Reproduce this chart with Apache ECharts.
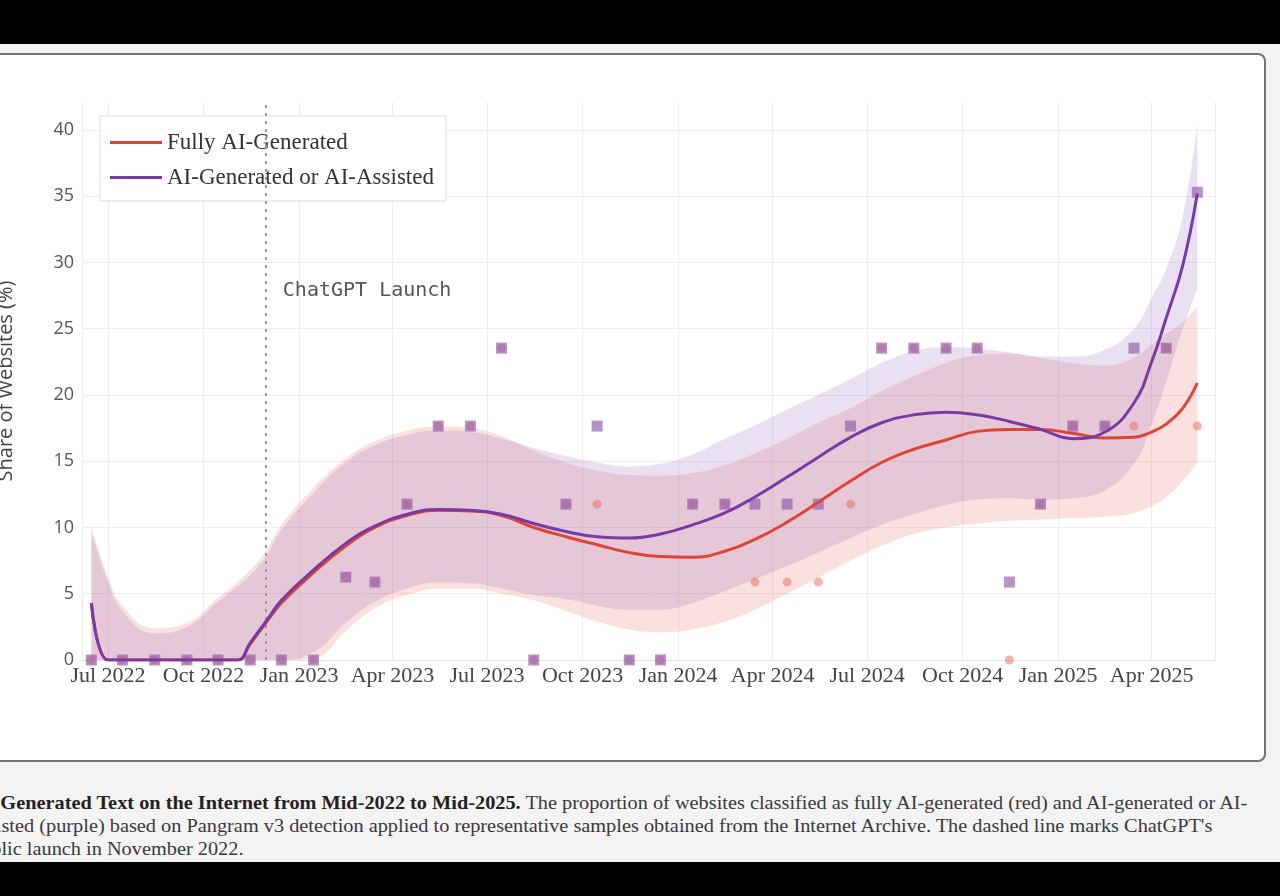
<!DOCTYPE html>
<html>
<head>
<meta charset="utf-8">
<script src="https://cdn.jsdelivr.net/npm/echarts@6/dist/echarts.min.js"></script>
<style>
html, body { margin:0; padding:0; width:1280px; height:896px; overflow:hidden; background:#f3f3f3; }
#topbar { position:absolute; left:0; top:0; width:1280px; height:44px; background:#000; }
#bottombar { position:absolute; left:0; top:862px; width:1280px; height:34px; background:#000; }
#card { position:absolute; left:-12px; top:53px; width:1274px; height:705px; background:#fff; border:2px solid #747474; border-radius:8px; }
#chart { position:absolute; left:0; top:0; width:1280px; height:896px; }
#caption { position:absolute; left:-27px; top:791px; font-family:'Liberation Serif', serif; font-size:19px; line-height:23px; color:#3a3a3a; white-space:nowrap; transform-origin:0 0; }
#caption b { color:#222; }
</style>
</head>
<body>
<div id="topbar"></div>
<div id="card"></div>
<div id="caption">
  <div><span id="l1"><b><span id="pre">AI-</span>Generated Text on the Internet from Mid-2022 to Mid-2025.</b> The proportion of websites classified as fully AI-generated (red) and AI-generated or AI-</span></div>
  <div><span>assisted (purple) based on Pangram v3 detection applied to representative samples obtained from the Internet Archive. The dashed line marks ChatGPT's</span></div>
  <div><span>public launch in November 2022.</span></div>
</div>
<div id="bottombar"></div>
<div id="chart"></div>
<script>
// monthly samples (mid-month)
var monthDates = [
  '2022-06-15','2022-07-15','2022-08-15','2022-09-15','2022-10-15','2022-11-15','2022-12-15',
  '2023-01-15','2023-02-15','2023-03-15','2023-04-15','2023-05-15','2023-06-15','2023-07-15',
  '2023-08-15','2023-09-15','2023-10-15','2023-11-15','2023-12-15',
  '2024-01-15','2024-02-15','2024-03-15','2024-04-15','2024-05-15','2024-06-15','2024-07-15',
  '2024-08-15','2024-09-15','2024-10-15','2024-11-15','2024-12-15',
  '2025-01-15','2025-02-15','2025-03-15','2025-04-15','2025-05-15'
];
var assistedPts = [0,0,0,0,0,0,0, 0,6.25,5.88,11.76,17.65,17.65,23.53, 0,11.76,17.65,0,0,
  11.76,11.76,11.76,11.76,11.76,17.65,23.53, 23.53,23.53,23.53,5.88,11.76,
  17.65,17.65,23.53,23.53,35.29];
var fullyPts = [0,0,0,0,0,0,0, 0,6.25,5.88,11.76,17.65,17.65,23.53, 0,11.76,11.76,0,0,
  11.76,11.76,5.88,5.88,5.88,11.76,23.53, 23.53,23.53,23.53,0,11.76,
  17.65,17.65,17.65,23.53,17.65];

// smoothed fit and confidence band
var fitDates = [
  '2022-06-15','2022-07-01','2022-07-15','2022-08-15','2022-09-15','2022-10-15','2022-11-03','2022-11-15','2022-12-01','2022-12-15',
  '2023-01-15','2023-02-15','2023-03-15','2023-04-15','2023-05-15','2023-06-15','2023-07-15','2023-08-15','2023-09-15','2023-10-15','2023-11-15','2023-12-15',
  '2024-01-15','2024-02-15','2024-03-15','2024-04-15','2024-05-15','2024-06-15','2024-07-15','2024-08-15','2024-09-15','2024-10-15','2024-11-15','2024-12-15',
  '2025-01-15','2025-02-15','2025-03-15','2025-04-01','2025-04-15','2025-05-01','2025-05-15'
];
var assistedFit = [4.3,0,0,0,0,0,0,1.3,3.0,4.5,
  6.8,8.8,10.1,11.0,11.35,11.3,11.0,10.3,9.7,9.3,9.2,9.5,
  10.2,11.1,12.3,13.8,15.3,16.8,17.9,18.5,18.7,18.5,18.0,17.4,
  16.7,17.2,19.4,22.5,25.8,29.8,35.2];
var assistedHi = [9.7,5.9,3.7,2.0,2.5,4.4,5.6,6.4,7.9,9.8,
  12.6,14.9,16.2,17.0,17.3,17.2,16.7,16.0,15.4,14.9,14.6,14.8,
  15.5,16.7,17.7,18.9,20.0,21.2,22.4,23.3,23.6,23.5,23.2,22.9,
  22.9,23.4,25.0,27.3,29.5,33.5,40.5];
var assistedLo = [0,0,0,0,0,0,0,0,0,0,
  0.6,2.8,4.4,5.4,5.85,5.8,5.4,4.9,4.6,4.1,3.8,3.8,
  4.3,5.2,6.1,7.1,8.1,9.2,10.2,11.0,11.7,12.1,12.2,12.1,
  12.2,12.8,14.8,17.8,21.0,25.0,28.0];
var fullyFit = [4.3,0,0,0,0,0,0,1.2,2.9,4.3,
  6.6,8.6,10.0,10.9,11.3,11.25,10.9,10.0,9.3,8.7,8.1,7.8,
  7.75,8.2,9.1,10.4,11.9,13.5,14.9,15.9,16.6,17.25,17.4,17.4,
  17.1,16.75,16.8,17.2,17.8,19.0,20.9];
var fullyHi = [10.0,6.3,4.1,2.4,2.8,4.7,5.9,6.8,8.3,10.2,
  13.0,15.2,16.5,17.3,17.6,17.5,16.9,15.8,14.9,14.3,13.95,13.9,
  14.1,14.7,15.6,16.7,17.9,19.0,20.3,21.4,22.4,23.0,23.1,22.8,
  22.4,22.2,22.8,23.8,24.6,25.5,26.7];
var fullyLo = [0,0,0,0,0,0,0,0,0,0,
  0.1,2.2,3.9,4.9,5.4,5.4,5.0,4.5,3.7,2.9,2.3,2.1,
  2.3,2.9,3.8,5.0,6.2,7.5,8.6,9.5,10.0,10.3,10.5,10.6,
  10.7,10.8,11.1,11.6,12.3,13.5,14.9];

var monthNames = ['Jan','Feb','Mar','Apr','May','Jun','Jul','Aug','Sep','Oct','Nov','Dec'];
var launchDay = new Date(2022, 10, 30).getTime();

function pairs(dates, vals) {
    return dates.map(function (d, i) { return [d, vals[i]]; });
}
function width(hi, lo) {
    return hi.map(function (v, i) { return +(v - lo[i]).toFixed(2); });
}

// scale the caption so its first line ends where the original does
var pre = document.getElementById('pre').getBoundingClientRect().width;
var w1 = document.getElementById('l1').getBoundingClientRect().width;
var k = 1247 / (w1 - pre);
var cap = document.getElementById('caption');
cap.style.left = (-pre * k) + 'px';
cap.style.transform = 'scaleX(' + k + ')';

var chart = echarts.init(document.getElementById('chart'));

function bandBase(stack, lo) {
    return {
        type: 'line', stack: stack, data: pairs(fitDates, lo), symbol: 'none',
        smooth: 0.45, lineStyle: { opacity: 0 }, silent: true, z: 1
    };
}
function band(stack, hi, lo, color) {
    return {
        type: 'line', stack: stack, data: pairs(fitDates, width(hi, lo)), symbol: 'none',
        smooth: 0.45, lineStyle: { opacity: 0 }, areaStyle: { color: color, opacity: 1 },
        silent: true, z: 1
    };
}

var option = {
    animation: false,
    grid: { left: 82, right: 65, top: 102, bottom: 236, containLabel: false, outerBoundsMode: 'none' },
    legend: {
        data: ['Fully AI-Generated', 'AI-Generated or AI-Assisted'],
        orient: 'vertical', left: 100, top: 116,
        icon: 'rect', itemWidth: 52, itemHeight: 3, itemGap: 12,
        padding: [15, 12, 12, 10],
        backgroundColor: '#fff', borderColor: '#dcdcdc', borderWidth: 1, borderRadius: 0,
        selectedMode: false,
        textStyle: { fontFamily: 'Liberation Serif', fontSize: 23, color: '#333' }
    },
    xAxis: {
        type: 'time',
        min: new Date(2022, 5, 6).getTime(),
        max: new Date(2025, 5, 1).getTime(),
        splitNumber: 12,
        axisLine: { lineStyle: { color: '#e2e2e2', width: 1 } },
        axisTick: { show: false },
        axisLabel: {
            fontFamily: 'Liberation Serif', fontSize: 22, color: '#444', margin: 5,
            formatter: function (v) {
                var d = new Date(v);
                return monthNames[d.getMonth()] + ' ' + d.getFullYear();
            }
        },
        splitLine: { show: true, lineStyle: { color: '#eeeeee', width: 1 } }
    },
    yAxis: {
        type: 'value', min: 0, max: 42.1, interval: 5,
        name: 'Share of Websites (%)', nameLocation: 'middle', nameGap: 66,
        nameTextStyle: { fontFamily: 'Open Sans', fontSize: 20, color: '#444' },
        axisLine: { show: false },
        axisTick: { show: false },
        axisLabel: { fontFamily: 'Open Sans', fontSize: 18, color: '#555', margin: 8, showMaxLabel: false },
        splitLine: { show: true, showMaxLine: false, lineStyle: { color: '#eeeeee', width: 1 } }
    },
    series: [
        bandBase('fullyBand', fullyLo),
        band('fullyBand', fullyHi, fullyLo, 'rgba(234,112,108,0.22)'),
        bandBase('assistedBand', assistedLo),
        band('assistedBand', assistedHi, assistedLo, 'rgba(140,92,186,0.19)'),
        {
            type: 'scatter', data: pairs(monthDates, fullyPts), symbol: 'circle', symbolSize: 9,
            itemStyle: { color: '#e86a5c', opacity: 0.5 }, silent: true, z: 3
        },
        {
            type: 'scatter', data: pairs(monthDates, assistedPts), symbol: 'rect', symbolSize: 11,
            itemStyle: { color: '#9460ab', opacity: 0.68 }, silent: true, z: 4
        },
        {
            name: 'Fully AI-Generated', type: 'line', data: pairs(fitDates, fullyFit),
            symbol: 'none', smooth: 0.45, color: '#dd4636',
            lineStyle: { color: '#dd4636', width: 3 }, z: 5
        },
        {
            name: 'AI-Generated or AI-Assisted', type: 'line', data: pairs(fitDates, assistedFit),
            symbol: 'none', smooth: 0.45, color: '#7a3aa6',
            lineStyle: { color: '#7a3aa6', width: 3 }, z: 6,
            markLine: {
                silent: true, symbol: 'none', label: { show: false },
                lineStyle: { color: '#9a9a9a', type: [3, 5], width: 2 },
                data: [{ xAxis: launchDay }]
            }
        }
    ]
};
chart.setOption(option);

var p = chart.convertToPixel({ xAxisIndex: 0, yAxisIndex: 0 }, [launchDay, 28]);
chart.setOption({
    graphic: [{
        type: 'text', x: p[0] + 17, y: p[1] + 2, silent: true,
        style: {
            text: 'ChatGPT Launch', fontFamily: 'DejaVu Sans Mono', fontSize: 20,
            fill: '#555', align: 'left', verticalAlign: 'middle'
        }
    }]
});
</script>
</body>
</html>
